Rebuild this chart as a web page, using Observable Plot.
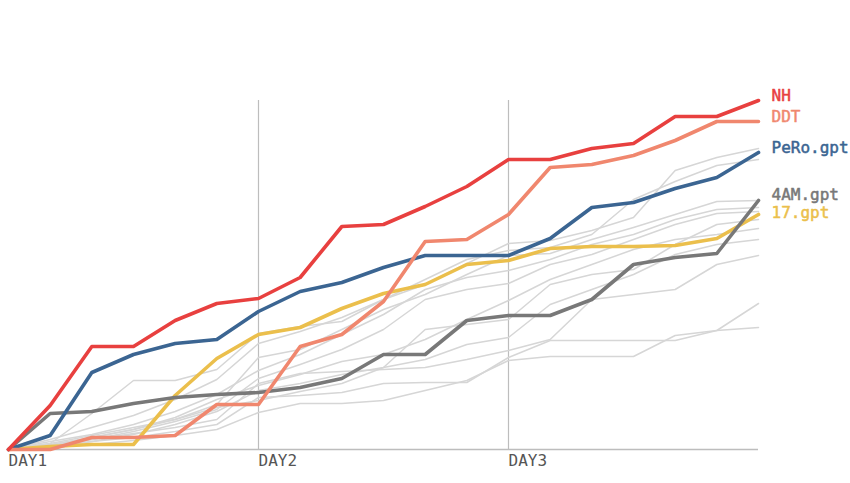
<!DOCTYPE html>
<html><head><meta charset="utf-8">
<script src="https://cdn.jsdelivr.net/npm/d3@7"></script>
<script src="https://cdn.jsdelivr.net/npm/@observablehq/plot@0.6"></script>
<style>body{margin:0;background:#fff;} #chart{width:850px;height:483px;}</style>
</head><body><div id="chart"></div>
<script>
// x positions: 6 steps per day, 3 days
const steps = d3.range(0, 19);
const dayTicks = [0, 6, 12];
const dayLabels = ["DAY1", "DAY2", "DAY3"];

// highlighted series (cumulative score, arbitrary units)
const NH   = [0, 44, 103, 103, 129, 146, 151, 172, 223, 225, 243, 263, 290, 290, 301, 306, 333, 333, 349];
const DDT  = [0, 0, 12, 12, 14, 45, 45, 103, 115, 148, 208, 210, 235, 282, 285, 294, 309, 328, 328];
const PeRo = [0, 14, 77, 95, 106, 110, 138, 158, 167, 182, 194, 194, 194, 211, 242, 247, 261, 272, 297];
const AM4  = [0, 36, 38, 46, 52, 55, 57, 62, 71, 95, 95, 129, 134, 134, 150, 185, 192, 196, 249];
const G17  = [0, 3, 5, 5, 54, 91, 115, 122, 141, 156, 165, 185, 189, 201, 203, 203, 204, 211, 235];

// other teams (grey)
const other1  = [0, 10, 22, 34, 50, 70, 106, 118, 132, 150, 165, 186, 206, 209, 219, 232, 279, 292, 301];
const other2  = [0, 6, 36, 69, 69, 80, 116, 123, 128, 150, 170, 190, 199, 202, 215, 250, 268, 284, 290];
const other3  = [0, 4, 12, 20, 30, 45, 92, 100, 120, 140, 155, 175, 194, 196, 210, 222, 235, 248, 249];
const other4  = [0, 8, 15, 25, 38, 55, 79, 95, 115, 135, 160, 172, 179, 190, 205, 215, 230, 240, 242];
const other5  = [0, 3, 10, 18, 28, 40, 71, 85, 100, 120, 150, 160, 166, 185, 195, 210, 225, 236, 238];
const other6  = [0, 5, 12, 20, 32, 50, 64, 75, 88, 95, 110, 130, 149, 170, 185, 200, 210, 215, 221];
const other7  = [0, 2, 8, 15, 25, 38, 59, 66, 75, 82, 90, 105, 112, 145, 160, 175, 195, 205, 210];
const other8  = [0, 4, 10, 16, 22, 30, 66, 76, 78, 80, 82, 90, 99, 110, 150, 155, 160, 185, 194];
const other9  = [0, 3, 8, 12, 18, 25, 52, 54, 57, 66, 67, 67, 92, 109, 109, 109, 109, 119, 146];
const other10 = [0, 2, 5, 9, 14, 20, 37, 46, 46, 49, 59, 69, 89, 93, 93, 93, 114, 119, 122];
const other11 = [0, 6, 14, 22, 30, 42, 49, 58, 66, 82, 120, 125, 130, 165, 175, 180, 205, 225, 230];

const highlightNames = ["17.gpt", "4AM.gpt", "PeRo.gpt", "DDT", "NH"];
const highlightValues = [G17, AM4, PeRo, DDT, NH];
const otherValues = [other1, other2, other3, other4, other5, other6, other7, other8, other9, other10, other11];

// styling
const colors = {"NH": "#e8403f", "DDT": "#f0876e", "PeRo.gpt": "#3b6592", "4AM.gpt": "#787878", "17.gpt": "#ebbf4c"};
const labelShift = {"NH": -5, "DDT": -5, "PeRo.gpt": -5, "4AM.gpt": -6, "17.gpt": -2};

const otherRows = otherValues.flatMap((vals, i) => vals.map((v, t) => ({series: "other" + (i + 1), t, v})));
const hlRows = highlightNames.flatMap((name, i) => highlightValues[i].map((v, t) => ({series: name, t, v})));
const yMax = d3.max(NH);

const chart = Plot.plot({
  width: 850,
  height: 483,
  marginLeft: 8,
  marginRight: 92,
  marginTop: 100,
  marginBottom: 34,
  style: {fontFamily: "DejaVu Sans Mono", fontSize: "16px", background: "#fff"},
  x: {domain: [0, 18]},
  y: {domain: [0, yMax], axis: null},
  marks: [
    Plot.ruleX(dayTicks.slice(1), {y1: 0, y2: yMax, stroke: "#bdbdbd", strokeWidth: 1.2}),
    Plot.ruleY([0], {x1: 0, x2: 18, stroke: "#bdbdbd", strokeWidth: 1.5}),
    Plot.axisX(dayTicks, {
      tickSize: 0, tickPadding: 5, textAnchor: "start", fill: "#555", stroke: "#555", strokeWidth: 0.5,
      tickFormat: (d) => dayLabels[dayTicks.indexOf(d)], label: null, fontSize: 16
    }),
    Plot.line(otherRows, {x: "t", y: "v", z: "series", stroke: "#d6d6d6", strokeWidth: 1.5}),
    ...highlightNames.map((name) =>
      Plot.line(hlRows.filter((r) => r.series === name), {x: "t", y: "v", stroke: colors[name], strokeWidth: 3.6, strokeLinejoin: "round"})
    ),
    ...highlightNames.map((name, i) =>
      Plot.text([{series: name, t: 18, v: highlightValues[i][18]}], {
        x: "t", y: "v", text: "series", fill: colors[name], stroke: colors[name], strokeWidth: 0.5,
        dx: 13, dy: labelShift[name], textAnchor: "start", fontSize: 16
      })
    )
  ]
});
document.getElementById("chart").append(chart);
</script>
</body></html>
